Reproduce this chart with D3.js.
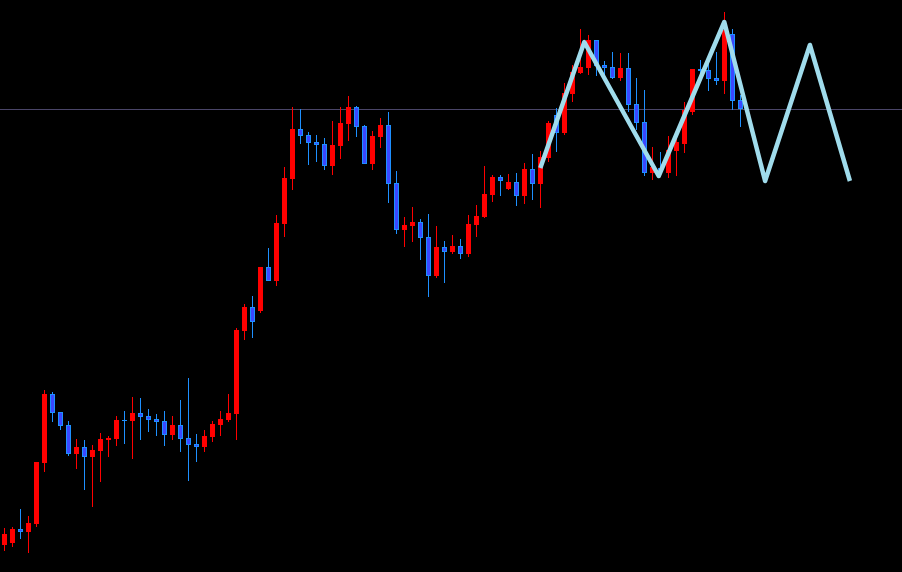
<!DOCTYPE html>
<html>
<head>
<meta charset="utf-8">
<script src="https://cdn.jsdelivr.net/npm/d3@7"></script>
<style>
html,body{margin:0;padding:0;background:#000;overflow:hidden;}
svg{display:block;}
</style>
</head>
<body>
<svg id="chart" width="902" height="572"></svg>
<script>
// ---- data (price units) ----
const opens  = [55,57,71,68,76,137,206,188,175,146,153,143,149,160,161,180,179,187,184,181,179,165,175,162,156,153,163,175,180,186,
                269,293,289,333,319,376,421,471,465,458,456,434,454,476,493,474,436,463,475,417,370,374,378,363,324,353,348,354,346,375,
                383,405,423,411,418,404,431,416,442,485,467,506,527,532,560,535,533,522,532,496,478,427,432,427,449,456,488,531,530,522,
                519,566,500];
const highs  = [72,73,91,84,138,210,208,188,179,161,160,155,167,164,184,189,203,202,191,186,189,184,200,222,166,170,179,189,206,272,
                296,304,333,352,385,433,493,491,468,465,462,479,493,504,494,475,469,482,488,429,383,393,381,386,374,359,365,361,385,395,
                434,425,425,426,427,437,446,449,479,492,517,535,571,565,560,539,548,547,547,522,510,453,448,464,464,498,531,540,540,548,
                588,571,505];
const lows   = [49,53,61,47,73,128,178,170,144,131,110,93,118,143,154,156,141,160,168,164,154,160,148,119,138,148,158,164,178,160,
                260,262,287,319,314,363,410,456,435,438,430,425,441,459,463,436,430,452,397,366,353,358,340,303,322,317,346,341,343,363,
                382,398,404,410,394,396,400,392,438,448,465,498,526,525,524,524,521,519,488,470,424,420,424,422,424,447,485,525,509,515,
                506,490,473];
const closes = [66,71,68,77,138,206,187,174,146,153,143,150,161,162,180,179,187,183,180,178,165,175,161,155,153,164,176,181,187,270,
                293,278,333,319,377,422,471,464,457,455,434,455,477,493,473,436,464,475,416,370,375,378,362,324,353,348,354,346,376,384,
                406,423,419,418,404,431,416,443,477,467,507,528,533,560,534,532,522,532,495,477,427,433,428,450,458,490,531,529,521,519,
                570,499,491];
const levelPrice = 491;
const zigzagIndex = [67, 72.5, 81.8, 90, 95.1, 100.7, 105.7];
const zigzagPrice = [432, 558, 424, 578, 419, 555, 419];

const candles = opens.map((o, i) => ({i, o, h: highs[i], l: lows[i], c: closes[i]}));
const zigzag = zigzagIndex.map((x, k) => ({x, p: zigzagPrice[k]}));

// ---- scales ----
const W = 902, H = 572;
const x = d3.scaleLinear().domain([0, 100]).range([4.3, 804.3]);
const y = d3.scaleLinear().domain([28, 600]).range([H, 0]);

const svg = d3.select("#chart").attr("shape-rendering", "crispEdges");
svg.append("rect").attr("width", W).attr("height", H).attr("fill", "#000");

// horizontal level line (behind candles)
svg.append("line")
  .attr("x1", 0).attr("x2", W)
  .attr("y1", Math.round(y(levelPrice)) + 0.5).attr("y2", Math.round(y(levelPrice)) + 0.5)
  .attr("stroke", "#4a4568").attr("stroke-width", 1);

const up = "#ff0000", downEdge = "#1e90ff", downFill = "#3a48ff";

const g = svg.append("g");
const cg = g.selectAll("g.c").data(candles).join("g").attr("class", "c");

// wicks
cg.append("rect")
  .attr("x", d => Math.floor(x(d.i)))
  .attr("width", 1)
  .attr("y", d => Math.round(y(d.h)))
  .attr("height", d => Math.max(1, Math.round(y(d.l)) - Math.round(y(d.h))))
  .attr("fill", d => d.c >= d.o ? up : downEdge);

// bodies
cg.append("rect")
  .attr("x", d => Math.round(x(d.i) - 2.5))
  .attr("width", 5)
  .attr("y", d => Math.round(y(Math.max(d.o, d.c))))
  .attr("height", d => Math.max(1, Math.round(y(Math.min(d.o, d.c))) - Math.round(y(Math.max(d.o, d.c)))))
  .attr("fill", d => d.c >= d.o ? up : downEdge);

// inner fill of bearish bodies
cg.filter(d => d.c < d.o && (y(d.c) - y(d.o)) > 2).append("rect")
  .attr("x", d => Math.round(x(d.i) - 2.5) + 1)
  .attr("width", 3)
  .attr("y", d => Math.round(y(d.o)) + 1)
  .attr("height", d => Math.round(y(d.c)) - Math.round(y(d.o)) - 2)
  .attr("fill", downFill);

// zigzag
const line = d3.line().x(d => x(d.x)).y(d => y(d.p));
svg.append("path")
  .datum(zigzag)
  .attr("d", line)
  .attr("fill", "none")
  .attr("stroke", "#a0dcec")
  .attr("stroke-width", 4.5)
  .attr("stroke-linejoin", "round")
  .attr("shape-rendering", "auto");
</script>
</body>
</html>
